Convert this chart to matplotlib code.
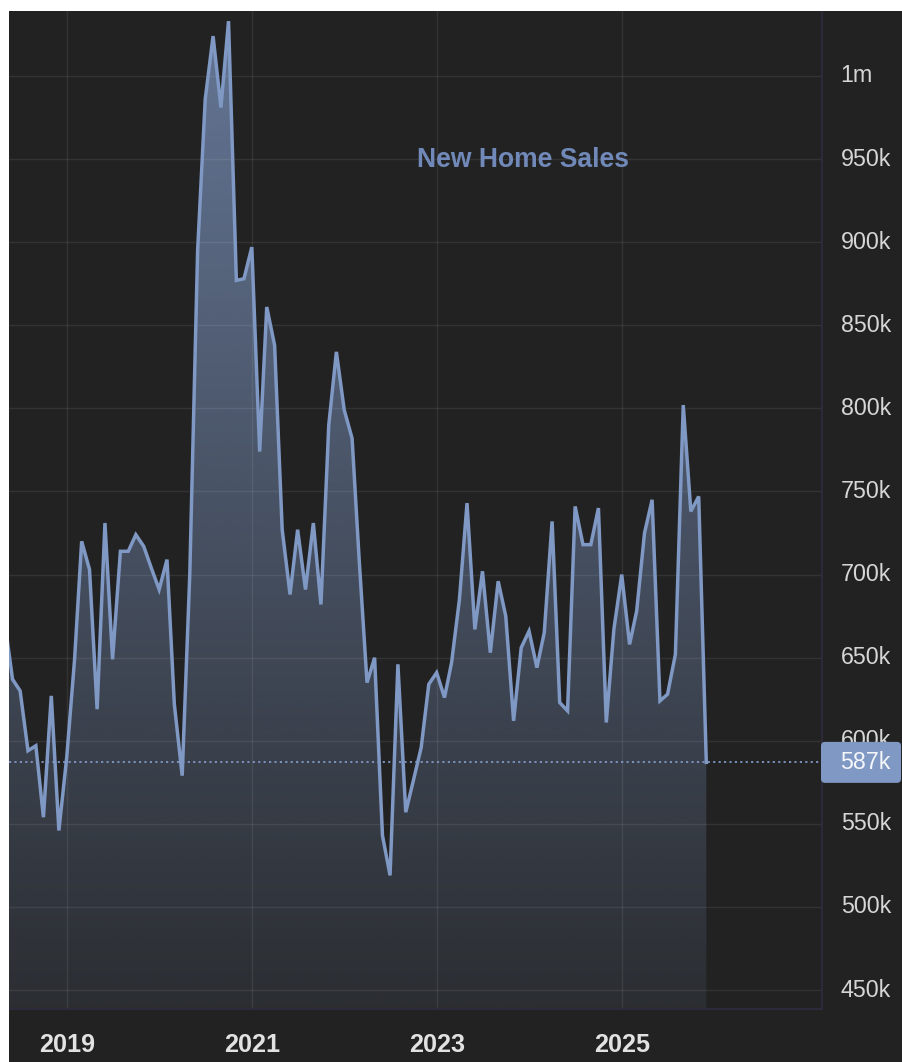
import matplotlib
matplotlib.use("Agg")
import matplotlib.pyplot as plt
import matplotlib.dates as mdates
from matplotlib.patches import Rectangle, FancyBboxPatch
from matplotlib import font_manager
import numpy as np
import pandas as pd

# ---------------- data ----------------
start_month = "2018-05-01"
sales_k = [672, 637, 630, 594, 597, 554, 627, 546,
           590, 649, 720, 703, 619, 731, 649, 714, 714, 724, 717, 704,
           691, 709, 622, 579, 700, 895, 986, 1024, 981, 1033, 877, 878,
           897, 774, 861, 838, 727, 688, 727, 691, 731, 682, 790, 834,
           799, 782, 709, 635, 650, 543, 519, 646, 557, 576, 596, 634,
           641, 626, 647, 685, 743, 667, 702, 653, 696, 675, 612, 656,
           666, 644, 665, 732, 623, 618, 741, 718, 718, 740, 611, 667,
           700, 658, 678, 725, 745, 624, 628, 652, 802, 738, 747, 587]
year_ticks = ["2019", "2021", "2023", "2025"]
y_ticks_k = [450, 500, 550, 600, 650, 700, 750, 800, 850, 900, 950, 1000]
y_tick_labels = ["450k", "500k", "550k", "600k", "650k", "700k", "750k",
                 "800k", "850k", "900k", "950k", "1m"]
title = "New Home Sales"
last_label = "587k"

# ---------------- style ----------------
fams = {f.name for f in font_manager.fontManager.ttflist}
NARROW = "Liberation Sans Narrow" in fams
FONT = "Liberation Sans Narrow" if NARROW else "Liberation Sans"
k = 1.0 if NARROW else 0.85
BG = "#222222"
LINE = "#7f98c4"
TITLE_C = "#7189b8"

W, H = 903, 1062
fig = plt.figure(figsize=(W / 100, H / 100), dpi=100, facecolor=BG)
ax_l, ax_r, ax_t, ax_b = 9, 822, 11, 1009
ax = fig.add_axes([ax_l / W, (H - ax_b) / H, (ax_r - ax_l) / W, (ax_b - ax_t) / H])
ax.set_facecolor(BG)

dates = pd.date_range(start_month, periods=len(sales_k), freq="MS")
x = mdates.date2num(dates)
y = np.array(sales_k, dtype=float) * 1000

d0 = mdates.date2num(pd.Timestamp("2019-01-01"))
xmin, xmax = d0 - 228, d0 + 2983
ymin, ymax = 438.6e3, 1039.1e3

# gradient fill under the line
poly = ax.fill_between(x, y, ymin, color="none", lw=0)
rgb = matplotlib.colors.to_rgb(LINE)
n = 256
grad = np.zeros((n, 1, 4))
grad[:, 0, 0:3] = rgb
grad[:, 0, 3] = np.linspace(0.10, 0.72, n)
im = ax.imshow(grad, extent=[xmin, xmax, ymin, ymax], origin="lower",
               aspect="auto", zorder=1, interpolation="bilinear")
im.set_clip_path(poly.get_paths()[0], transform=ax.transData)

# grid lines
for v in y_ticks_k:
    ax.axhline(v * 1000, color="white", alpha=0.08, lw=1, zorder=1.5)
year_pos = [mdates.date2num(pd.Timestamp(f"{yr}-01-01")) for yr in year_ticks]
for xp in year_pos:
    ax.axvline(xp, color="white", alpha=0.08, lw=1, zorder=1.5)

# last value dotted line
ax.axhline(y[-1], color=LINE, lw=1.3, ls=(0, (1.2, 1.8)), zorder=2.5)

# main line
ax.plot(x, y, color=LINE, lw=2.5, zorder=3, solid_joinstyle="miter")

ax.set_xlim(xmin, xmax)
ax.set_ylim(ymin, ymax)

# ticks
ax.yaxis.tick_right()
ax.set_yticks([v * 1000 for v in y_ticks_k])
ax.set_yticklabels(y_tick_labels)
ax.set_xticks(year_pos)
ax.set_xticklabels(year_ticks)
ax.tick_params(axis="y", length=0, pad=13.5, labelsize=19.7 * k, labelcolor="#d6d6d6")
ax.tick_params(axis="x", length=0, pad=17, labelsize=21.3 * k, labelcolor="#e2e2e2")
for lab in ax.get_yticklabels():
    lab.set_fontfamily(FONT)
    lab.set_verticalalignment("center")
for lab in ax.get_xticklabels():
    lab.set_fontfamily(FONT)
    lab.set_fontweight("bold")

for s in ["top", "left"]:
    ax.spines[s].set_visible(False)
for s in ["right", "bottom"]:
    ax.spines[s].set_color("#2d2b40")
    ax.spines[s].set_linewidth(1.2)

# title
ax.text(0.632, 0.851, title, transform=ax.transAxes, ha="center", va="center",
        fontsize=23 * (k - 0.02 if not NARROW else 1), fontweight="bold",
        color=TITLE_C, family=FONT, zorder=4)

# last value label box (pixel coords)
fig.canvas.draw()
_, ypix = ax.transData.transform((x[-1], y[-1]))
box_h = 41
box = FancyBboxPatch((821, ypix - box_h / 2), 80, box_h,
                     boxstyle="round,pad=0,rounding_size=4",
                     transform=None, facecolor=LINE, edgecolor="none", zorder=5)
fig.add_artist(box)
fig.text(840.5 / W, ypix / H, last_label, ha="left", va="center",
         fontsize=19.7 * k, color="#f4f6fa", family=FONT, zorder=6)

# white margins (top and left)
fig.add_artist(Rectangle((0, 0), ax_l / W, 1, transform=fig.transFigure,
                         facecolor="white", edgecolor="none", zorder=10))
fig.add_artist(Rectangle((0, 1 - ax_t / H), 1, ax_t / H, transform=fig.transFigure,
                         facecolor="white", edgecolor="none", zorder=10))

fig.savefig("out.png", dpi=100, facecolor=BG)
